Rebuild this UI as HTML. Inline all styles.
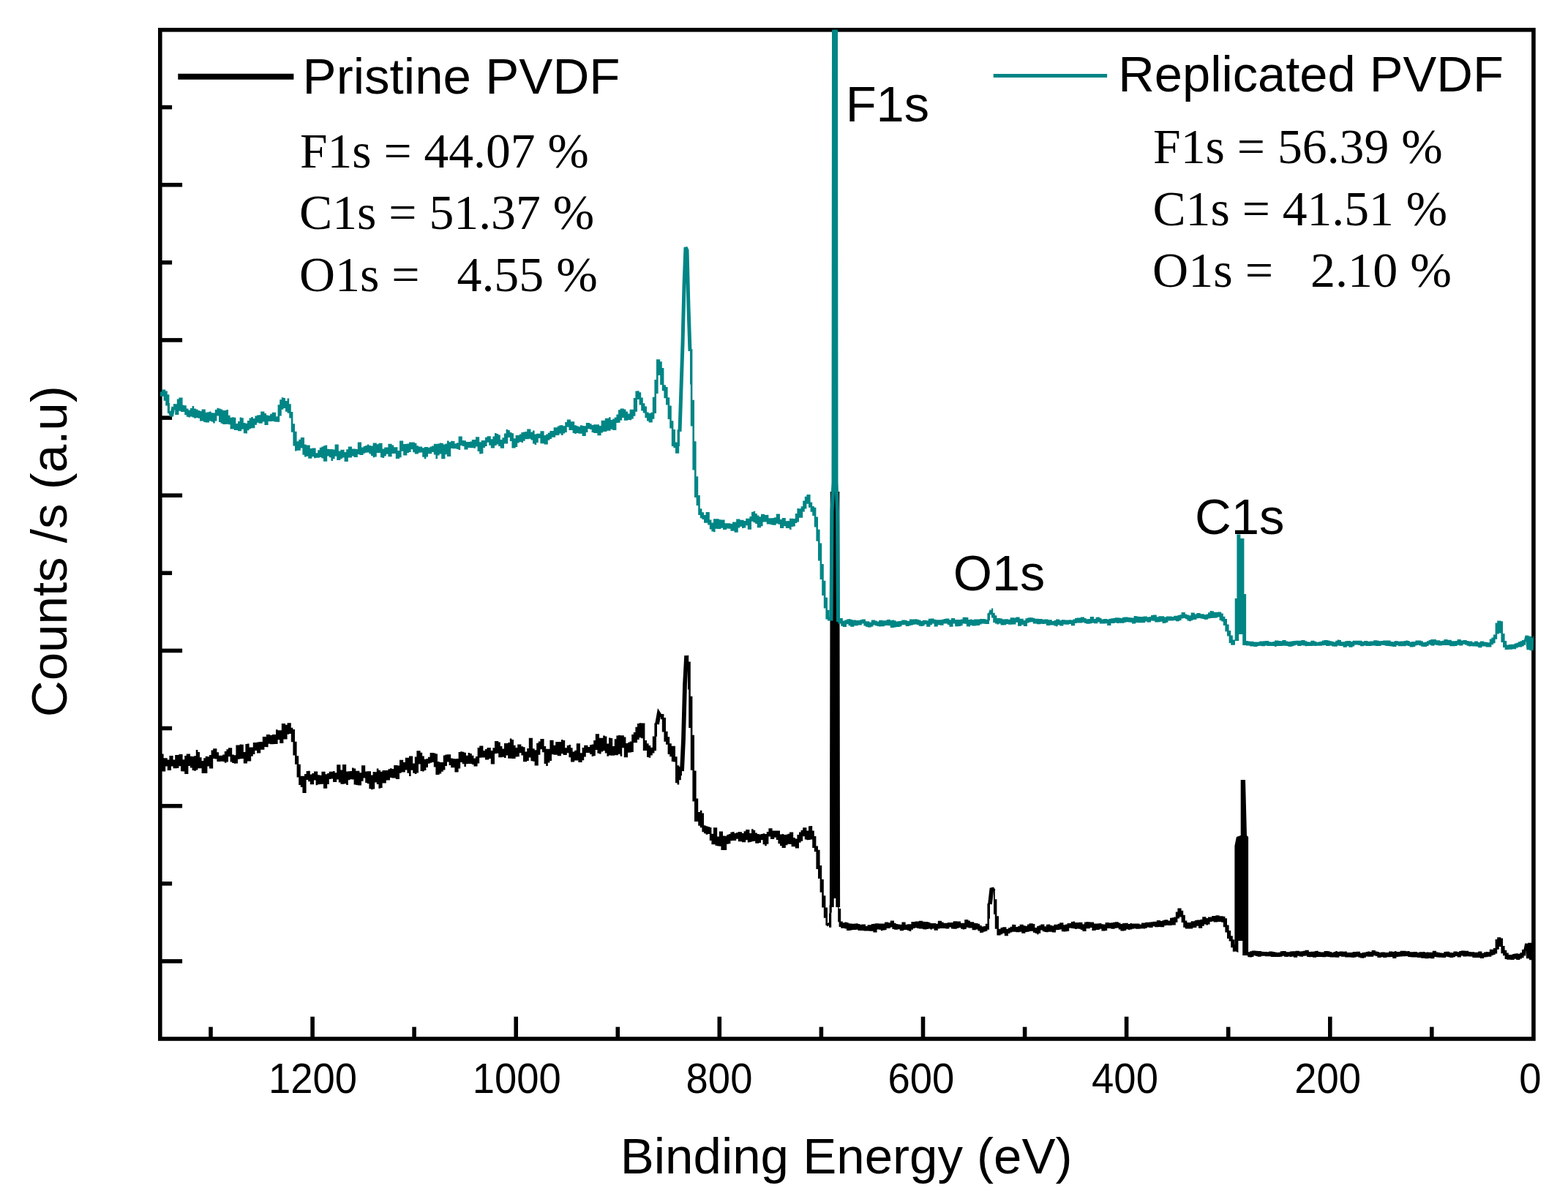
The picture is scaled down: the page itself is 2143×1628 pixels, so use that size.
<!DOCTYPE html>
<html><head><meta charset="utf-8"><title>XPS survey spectra of pristine and replicated PVDF</title>
<style>
html,body{margin:0;padding:0;background:#fff;}
body{width:2143px;height:1628px;overflow:hidden;}
svg{display:block;}
.sans{font-family:"Liberation Sans",Arial,sans-serif;fill:#000;}
.serif{font-family:"Liberation Serif","Times New Roman",serif;fill:#000;}
</style></head>
<body>
<svg width="2143" height="1628" viewBox="0 0 2143 1628">
<rect width="2143" height="1628" fill="#fff"/>
<g stroke="#000" stroke-width="5.6" fill="none">
<rect x="218.8" y="40.8" width="1877.1" height="1379.2"/>
<line x1="1956.8" y1="1420.0" x2="1956.8" y2="1403.7"/><line x1="1817.8" y1="1420.0" x2="1817.8" y2="1389.7"/><line x1="1678.7" y1="1420.0" x2="1678.7" y2="1403.7"/><line x1="1539.6" y1="1420.0" x2="1539.6" y2="1389.7"/><line x1="1400.6" y1="1420.0" x2="1400.6" y2="1403.7"/><line x1="1261.5" y1="1420.0" x2="1261.5" y2="1389.7"/><line x1="1122.4" y1="1420.0" x2="1122.4" y2="1403.7"/><line x1="983.3" y1="1420.0" x2="983.3" y2="1389.7"/><line x1="844.3" y1="1420.0" x2="844.3" y2="1403.7"/><line x1="705.2" y1="1420.0" x2="705.2" y2="1389.7"/><line x1="566.1" y1="1420.0" x2="566.1" y2="1403.7"/><line x1="427.1" y1="1420.0" x2="427.1" y2="1389.7"/><line x1="288.0" y1="1420.0" x2="288.0" y2="1403.7"/><line x1="218.8" y1="1313.9" x2="249.1" y2="1313.9"/><line x1="218.8" y1="1207.8" x2="235.1" y2="1207.8"/><line x1="218.8" y1="1101.7" x2="249.1" y2="1101.7"/><line x1="218.8" y1="995.5" x2="235.1" y2="995.5"/><line x1="218.8" y1="889.4" x2="249.1" y2="889.4"/><line x1="218.8" y1="783.3" x2="235.1" y2="783.3"/><line x1="218.8" y1="677.2" x2="249.1" y2="677.2"/><line x1="218.8" y1="571.1" x2="235.1" y2="571.1"/><line x1="218.8" y1="464.9" x2="249.1" y2="464.9"/><line x1="218.8" y1="358.8" x2="235.1" y2="358.8"/><line x1="218.8" y1="252.7" x2="249.1" y2="252.7"/><line x1="218.8" y1="146.6" x2="235.1" y2="146.6"/>
<line x1="243.3" y1="104.8" x2="401.4" y2="104.8" stroke-width="8"/>
<line x1="1357.7" y1="103.5" x2="1513.1" y2="103.5" stroke="#008585" stroke-width="5.1"/>
</g>
<defs><clipPath id="plotclip"><rect x="218.8" y="40.8" width="1877.1" height="1379.2"/></clipPath></defs>
<g fill="none" stroke-linejoin="miter" stroke-miterlimit="3" clip-path="url(#plotclip)">
<path d="M1138.5 672H1143.5V1228H1138.5Z M1687.4 1300V1156L1689.9 1144L1695.7 1142V1066H1702L1704 1142L1706.1 1144V1306H1698.2V1286H1692.4V1302Z" fill="#000" stroke="none"/>
<path d="M219.0 1044.0M898.0 990.0L900.5 976.0L903.0 980.0M932.0 1054.0L934.0 1011.0L936.0 936.0L938.0 899.0L940.0 899.0M1131.0 1262.0L1133.0 1265.0M1136.8 1240.0L1137.6 672.0M1144.4 672.0L1145.2 1240.0M1353.0 1236.0L1355.5 1214.0L1358.0 1218.0M1688.0 1298.0M1705.0 1304.0M2085.0 1300.0L2087.0 1290.0L2089.0 1310.0L2091.0 1289.0L2093.0 1312.0L2095.0 1292.0M2099.0 1296.0" stroke="#000" stroke-width="5.8"/>
<path d="M219.0 1030.4H221.0V1047.2H219.0ZM221.0 1030.4H223.6V1054.5H221.0ZM223.6 1036.3H226.2V1054.5H223.6ZM226.2 1036.3H228.8V1047.6H226.2ZM228.8 1038.5H231.4V1053.0H228.8ZM231.4 1033.0H234.0V1053.0H231.4ZM234.0 1033.0H236.6V1047.6H234.0ZM236.6 1038.5H239.2V1050.3H236.6ZM239.2 1032.1H241.8V1050.3H239.2ZM241.8 1032.0H244.4V1050.0H241.8ZM244.4 1031.0H247.0V1047.2H244.4ZM247.0 1031.0H249.6V1054.3H247.0ZM249.6 1038.2H252.2V1054.6H249.6ZM252.2 1033.1H254.8V1057.9H252.2ZM254.8 1030.4H257.4V1057.9H254.8ZM257.4 1030.4H260.0V1047.1H257.4ZM260.0 1033.8H262.6V1049.4H260.0ZM262.6 1033.9H265.2V1052.9H262.6ZM265.2 1033.3H267.8V1053.7H265.2ZM267.8 1024.9H270.4V1052.5H267.8ZM270.4 1028.1H273.0V1050.2H270.4ZM273.0 1035.2H275.6V1050.2H273.0ZM275.6 1040.0H278.2V1057.0H275.6ZM278.2 1036.2H280.8V1057.0H278.2ZM280.8 1033.8H283.4V1056.9H280.8ZM283.4 1034.2H286.0V1047.6H283.4ZM286.0 1031.9H288.6V1050.5H286.0ZM288.6 1025.4H291.2V1050.5H288.6ZM291.2 1023.3H293.8V1036.9H291.2ZM293.8 1023.3H296.4V1037.4H293.8ZM296.4 1028.2H299.0V1040.9H296.4ZM299.0 1032.8H301.6V1040.9H299.0ZM301.6 1032.7H304.2V1040.7H301.6ZM304.2 1031.6H306.8V1041.1H304.2ZM306.8 1027.0H309.4V1042.7H306.8ZM309.4 1024.2H312.0V1041.4H309.4ZM312.0 1022.2H314.6V1034.3H312.0ZM314.6 1022.2H317.2V1041.5H314.6ZM317.2 1031.4H319.8V1042.9H317.2ZM319.8 1032.3H322.4V1043.7H319.8ZM322.4 1018.4H325.0V1043.6H322.4ZM325.0 1018.4H327.6V1037.7H325.0ZM327.6 1017.4H330.2V1037.2H327.6ZM330.2 1017.8H332.8V1036.9H330.2ZM332.8 1028.1H335.4V1043.5H332.8ZM335.4 1017.1H338.0V1043.5H335.4ZM338.0 1016.6H340.6V1040.5H338.0ZM340.6 1021.4H343.2V1040.5H340.6ZM343.2 1021.4H345.8V1033.7H343.2ZM345.8 1015.1H348.4V1030.9H345.8ZM348.4 1015.1H351.0V1026.0H348.4ZM351.0 1014.4H353.6V1029.4H351.0ZM353.6 1014.1H356.2V1029.4H353.6ZM356.2 1014.1H358.8V1024.7H356.2ZM358.8 1007.1H361.4V1024.7H358.8ZM361.4 1007.0H364.0V1020.9H361.4ZM364.0 1003.9H366.6V1021.2H364.0ZM366.6 1003.9H369.2V1016.8H366.6ZM369.2 1005.0H371.8V1017.2H369.2ZM371.8 1004.0H374.4V1017.3H371.8ZM374.4 1004.0H377.0V1017.0H374.4ZM377.0 997.3H379.6V1017.0H377.0ZM379.6 998.2H382.2V1011.2H379.6ZM382.2 998.3H384.8V1015.9H382.2ZM384.8 988.9H387.4V1015.9H384.8ZM387.4 988.9H390.0V1010.4H387.4ZM390.0 990.8H392.6V1010.4H390.0ZM392.6 988.2H395.2V1003.8H392.6ZM395.2 988.2H397.8V1002.9H395.2ZM397.8 994.8H400.4V1014.3H397.8ZM400.4 997.0H403.0V1032.5H400.4ZM403.0 1013.7H405.6V1044.7H403.0ZM405.6 1033.3H408.2V1062.6H405.6ZM408.2 1044.8H410.8V1073.1H408.2ZM410.8 1060.8H413.4V1075.9H410.8ZM413.4 1060.8H416.0V1084.0H413.4ZM416.0 1057.9H418.6V1084.0H416.0ZM418.6 1054.0H421.2V1066.0H418.6ZM421.2 1053.8H423.8V1068.3H421.2ZM423.8 1058.5H426.4V1072.2H423.8ZM426.4 1057.0H429.0V1072.2H426.4ZM429.0 1054.4H431.6V1066.4H429.0ZM431.6 1054.4H434.2V1073.2H431.6ZM434.2 1059.2H436.8V1072.3H434.2ZM436.8 1059.7H439.4V1071.9H436.8ZM439.4 1054.8H442.0V1071.8H439.4ZM442.0 1054.8H444.6V1077.7H442.0ZM444.6 1058.2H447.2V1077.7H444.6ZM447.2 1057.0H449.8V1072.0H447.2ZM449.8 1054.7H452.4V1065.0H449.8ZM452.4 1054.7H455.0V1064.6H452.4ZM455.0 1054.1H457.6V1069.0H455.0ZM457.6 1056.3H460.2V1069.0H457.6ZM460.2 1045.3H462.8V1065.6H460.2ZM462.8 1045.3H465.4V1069.4H462.8ZM465.4 1052.6H468.0V1071.7H465.4ZM468.0 1044.9H470.6V1071.7H468.0ZM470.6 1044.9H473.2V1071.3H470.6ZM473.2 1054.4H475.8V1072.9H473.2ZM475.8 1054.3H478.4V1066.3H475.8ZM478.4 1054.0H481.0V1065.3H478.4ZM481.0 1049.5H483.6V1065.6H481.0ZM483.6 1050.4H486.2V1072.5H483.6ZM486.2 1053.8H488.8V1072.9H486.2ZM488.8 1053.8H491.4V1073.6H488.8ZM491.4 1056.2H494.0V1073.4H491.4ZM494.0 1046.3H496.6V1067.8H494.0ZM496.6 1046.3H499.2V1063.5H496.6ZM499.2 1054.5H501.8V1070.1H499.2ZM501.8 1054.3H504.4V1071.3H501.8ZM504.4 1054.3H507.0V1078.3H504.4ZM507.0 1059.5H509.6V1079.3H507.0ZM509.6 1055.1H512.2V1078.4H509.6ZM512.2 1055.2H514.8V1069.6H512.2ZM514.8 1050.6H517.4V1072.1H514.8ZM517.4 1052.7H520.0V1077.8H517.4ZM520.0 1054.8H522.6V1077.0H520.0ZM522.6 1053.0H525.2V1070.6H522.6ZM525.2 1053.0H527.8V1070.6H525.2ZM527.8 1052.9H530.4V1066.6H527.8ZM530.4 1051.3H533.0V1066.6H530.4ZM533.0 1050.2H535.6V1063.0H533.0ZM535.6 1051.0H538.2V1063.5H535.6ZM538.2 1045.9H540.8V1063.5H538.2ZM540.8 1045.9H543.4V1064.9H540.8ZM543.4 1046.5H546.0V1064.9H543.4ZM546.0 1038.7H548.6V1056.7H546.0ZM548.6 1038.7H551.2V1055.5H548.6ZM551.2 1042.0H553.8V1055.5H551.2ZM553.8 1035.7H556.4V1052.4H553.8ZM556.4 1035.7H559.0V1056.8H556.4ZM559.0 1033.6H561.6V1061.1H559.0ZM561.6 1033.6H564.2V1052.8H561.6ZM564.2 1043.4H566.8V1056.7H564.2ZM566.8 1034.4H569.4V1058.1H566.8ZM569.4 1026.2H572.0V1056.5H569.4ZM572.0 1026.3H574.6V1044.4H572.0ZM574.6 1028.8H577.2V1054.0H574.6ZM577.2 1033.6H579.8V1054.4H577.2ZM579.8 1037.8H582.4V1053.0H579.8ZM582.4 1036.9H585.0V1048.9H582.4ZM585.0 1034.8H587.6V1043.8H585.0ZM587.6 1029.1H590.2V1042.8H587.6ZM590.2 1029.1H592.8V1042.0H590.2ZM592.8 1029.4H595.4V1048.4H592.8ZM595.4 1030.6H598.0V1059.0H595.4ZM598.0 1041.1H600.6V1059.0H598.0ZM600.6 1041.9H603.2V1057.6H600.6ZM603.2 1042.0H605.8V1054.7H603.2ZM605.8 1032.6H608.4V1052.6H605.8ZM608.4 1031.4H611.0V1046.9H608.4ZM611.0 1031.3H613.6V1041.5H611.0ZM613.6 1031.3H616.2V1045.9H613.6ZM616.2 1036.6H618.8V1049.2H616.2ZM618.8 1037.0H621.4V1049.2H618.8ZM621.4 1037.2H624.0V1055.5H621.4ZM624.0 1036.9H626.6V1055.5H624.0ZM626.6 1028.0H629.2V1050.4H626.6ZM629.2 1027.2H631.8V1041.9H629.2ZM631.8 1027.8H634.4V1044.3H631.8ZM634.4 1028.7H637.0V1048.0H634.4ZM637.0 1032.8H639.6V1044.3H637.0ZM639.6 1029.0H642.2V1043.9H639.6ZM642.2 1030.1H644.8V1043.9H642.2ZM644.8 1032.7H647.4V1044.9H644.8ZM647.4 1036.4H650.0V1047.4H647.4ZM650.0 1034.0H652.6V1047.4H650.0ZM652.6 1022.1H655.2V1043.5H652.6ZM655.2 1019.4H657.8V1035.8H655.2ZM657.8 1019.4H660.4V1035.6H657.8ZM660.4 1026.1H663.0V1035.6H660.4ZM663.0 1024.1H665.6V1038.6H663.0ZM665.6 1021.9H668.2V1038.6H665.6ZM668.2 1021.9H670.8V1036.9H668.2ZM670.8 1026.1H673.4V1044.5H670.8ZM673.4 1022.2H676.0V1044.5H673.4ZM676.0 1013.1H678.6V1030.2H676.0ZM678.6 1013.1H681.2V1029.8H678.6ZM681.2 1014.4H683.8V1035.2H681.2ZM683.8 1020.0H686.4V1035.2H683.8ZM686.4 1023.4H689.0V1034.7H686.4ZM689.0 1016.1H691.6V1035.9H689.0ZM691.6 1016.1H694.2V1032.4H691.6ZM694.2 1015.0H696.8V1036.8H694.2ZM696.8 1009.4H699.4V1036.8H696.8ZM699.4 1011.1H702.0V1037.1H699.4ZM702.0 1018.7H704.6V1037.1H702.0ZM704.6 1021.9H707.2V1034.4H704.6ZM707.2 1017.4H709.8V1034.3H707.2ZM709.8 1017.4H712.4V1029.2H709.8ZM712.4 1020.3H715.0V1032.6H712.4ZM715.0 1021.3H717.6V1041.3H715.0ZM717.6 1027.5H720.2V1041.3H717.6ZM720.2 1022.9H722.8V1040.0H720.2ZM722.8 1008.7H725.4V1035.6H722.8ZM725.4 1008.7H728.0V1040.2H725.4ZM728.0 1023.3H730.6V1040.8H728.0ZM730.6 1025.3H733.2V1046.6H730.6ZM733.2 1015.7H735.8V1046.6H733.2ZM735.8 1013.5H738.4V1031.7H735.8ZM738.4 1010.0H741.0V1024.2H738.4ZM741.0 1010.0H743.6V1028.3H741.0ZM743.6 1020.1H746.2V1044.0H743.6ZM746.2 1023.8H748.8V1047.0H746.2ZM748.8 1023.8H751.4V1042.4H748.8ZM751.4 1011.7H754.0V1039.9H751.4ZM754.0 1011.7H756.6V1031.2H754.0ZM756.6 1018.8H759.2V1031.7H756.6ZM759.2 1014.0H761.8V1031.7H759.2ZM761.8 1014.0H764.4V1033.2H761.8ZM764.4 1014.1H767.0V1033.2H764.4ZM767.0 1011.1H769.6V1030.2H767.0ZM769.6 1011.9H772.2V1032.0H769.6ZM772.2 1022.3H774.8V1032.0H772.2ZM774.8 1019.0H777.4V1029.3H774.8ZM777.4 1018.0H780.0V1035.2H777.4ZM780.0 1022.2H782.6V1041.6H780.0ZM782.6 1027.5H785.2V1041.6H782.6ZM785.2 1025.8H787.8V1039.5H785.2ZM787.8 1016.2H790.4V1039.5H787.8ZM790.4 1016.2H793.0V1041.9H790.4ZM793.0 1029.2H795.6V1042.0H793.0ZM795.6 1022.0H798.2V1039.3H795.6ZM798.2 1018.8H800.8V1034.5H798.2ZM800.8 1018.8H803.4V1029.1H800.8ZM803.4 1021.1H806.0V1029.0H803.4ZM806.0 1018.2H808.6V1030.9H806.0ZM808.6 1017.4H811.2V1034.0H808.6ZM811.2 1011.9H813.8V1033.3H811.2ZM813.8 1003.3H816.4V1025.1H813.8ZM816.4 1003.3H819.0V1029.8H816.4ZM819.0 1008.7H821.6V1030.4H819.0ZM821.6 1008.7H824.2V1027.4H821.6ZM824.2 1005.4H826.8V1026.2H824.2ZM826.8 1006.5H829.4V1029.4H826.8ZM829.4 1016.5H832.0V1033.7H829.4ZM832.0 1008.5H834.6V1032.5H832.0ZM834.6 1009.1H837.2V1032.8H834.6ZM837.2 1020.1H839.8V1032.8H837.2ZM839.8 1010.2H842.4V1032.3H839.8ZM842.4 1005.4H845.0V1032.3H842.4ZM845.0 1005.1H847.6V1030.8H845.0ZM847.6 1005.3H850.2V1033.8H847.6ZM850.2 1005.3H852.8V1022.2H850.2ZM852.8 1007.4H855.4V1035.3H852.8ZM855.4 1016.0H858.0V1035.3H855.4ZM858.0 1014.8H860.6V1028.8H858.0ZM860.6 1013.4H863.2V1028.4H860.6ZM863.2 1004.0H865.8V1028.1H863.2ZM865.8 1001.1H868.4V1015.2H865.8ZM868.4 993.7H871.0V1015.2H868.4ZM871.0 989.1H873.6V1010.9H871.0ZM873.6 988.3H876.2V1008.3H873.6ZM876.2 988.6H878.8V1009.3H876.2ZM878.8 988.6H881.4V1026.0H878.8ZM881.4 1011.9H884.0V1026.0H881.4ZM884.0 1016.3H886.6V1035.1H884.0ZM886.6 1019.0H889.2V1035.8H886.6ZM889.2 1021.7H891.8V1032.5H889.2ZM891.8 1006.6H894.4V1029.5H891.8ZM894.4 988.4H897.0V1026.2H894.4ZM897.0 986.8H898.0V1006.8H897.0ZM903.0 976.1H904.8V983.2H903.0ZM904.8 976.1H907.4V1000.4H904.8ZM907.4 981.0H910.0V1013.7H907.4ZM910.0 999.8H912.6V1017.7H910.0ZM912.6 1007.2H915.2V1030.9H912.6ZM915.2 1016.3H917.8V1034.2H915.2ZM917.8 1019.7H920.4V1040.9H917.8ZM920.4 1019.7H923.0V1041.5H920.4ZM923.0 1034.3H925.6V1070.2H923.0ZM925.6 1046.2H928.2V1072.5H925.6ZM928.2 1047.9H930.8V1066.2H928.2ZM930.8 1047.9H932.0V1060.2H930.8ZM940.0 895.8H941.2V942.6H940.0ZM941.2 904.5H943.8V994.9H941.2ZM943.8 951.8H946.4V1052.7H943.8ZM946.4 1004.7H949.0V1095.5H946.4ZM949.0 1053.5H951.6V1123.0H949.0ZM951.6 1091.4H954.2V1123.0H951.6ZM954.2 1109.9H956.8V1128.8H954.2ZM956.8 1107.8H959.4V1131.3H956.8ZM959.4 1111.5H962.0V1137.2H959.4ZM962.0 1128.2H964.6V1139.3H962.0ZM964.6 1129.2H967.2V1140.8H964.6ZM967.2 1129.9H969.8V1140.0H967.2ZM969.8 1131.0H972.4V1149.1H969.8ZM972.4 1139.8H975.0V1154.2H972.4ZM975.0 1131.2H977.6V1154.2H975.0ZM977.6 1131.2H980.2V1156.0H977.6ZM980.2 1143.4H982.8V1156.6H980.2ZM982.8 1136.4H985.4V1156.8H982.8ZM985.4 1136.4H988.0V1162.1H985.4ZM988.0 1142.5H990.6V1161.9H988.0ZM990.6 1142.8H993.2V1161.9H990.6ZM993.2 1140.9H995.8V1153.7H993.2ZM995.8 1140.1H998.4V1153.2H995.8ZM998.4 1137.5H1001.0V1149.3H998.4ZM1001.0 1136.9H1003.6V1149.1H1001.0ZM1003.6 1139.1H1006.2V1149.1H1003.6ZM1006.2 1138.0H1008.8V1146.8H1006.2ZM1008.8 1137.0H1011.4V1150.3H1008.8ZM1011.4 1137.3H1014.0V1150.3H1011.4ZM1014.0 1139.0H1016.6V1151.3H1014.0ZM1016.6 1136.3H1019.2V1151.3H1016.6ZM1019.2 1134.1H1021.8V1148.2H1019.2ZM1021.8 1134.1H1024.4V1151.4H1021.8ZM1024.4 1138.9H1027.0V1150.9H1024.4ZM1027.0 1133.3H1029.6V1150.2H1027.0ZM1029.6 1134.7H1032.2V1149.8H1029.6ZM1032.2 1138.4H1034.8V1152.8H1032.2ZM1034.8 1140.0H1037.4V1152.8H1034.8ZM1037.4 1140.4H1040.0V1152.1H1037.4ZM1040.0 1140.0H1042.6V1148.3H1040.0ZM1042.6 1139.3H1045.2V1154.3H1042.6ZM1045.2 1139.9H1047.8V1156.3H1045.2ZM1047.8 1136.9H1050.4V1153.8H1047.8ZM1050.4 1132.3H1053.0V1143.6H1050.4ZM1053.0 1132.3H1055.6V1147.0H1053.0ZM1055.6 1135.6H1058.2V1147.0H1055.6ZM1058.2 1135.5H1060.8V1144.7H1058.2ZM1060.8 1135.6H1063.4V1148.0H1060.8ZM1063.4 1135.6H1066.0V1153.3H1063.4ZM1066.0 1140.5H1068.6V1156.3H1066.0ZM1068.6 1140.1H1071.2V1158.9H1068.6ZM1071.2 1141.0H1073.8V1158.9H1071.2ZM1073.8 1140.7H1076.4V1155.3H1073.8ZM1076.4 1139.7H1079.0V1153.8H1076.4ZM1079.0 1137.4H1081.6V1154.0H1079.0ZM1081.6 1137.4H1084.2V1157.2H1081.6ZM1084.2 1145.0H1086.8V1157.2H1084.2ZM1086.8 1146.4H1089.4V1159.5H1086.8ZM1089.4 1140.9H1092.0V1159.5H1089.4ZM1092.0 1137.4H1094.6V1151.7H1092.0ZM1094.6 1134.8H1097.2V1149.7H1094.6ZM1097.2 1131.2H1099.8V1143.3H1097.2ZM1099.8 1131.2H1102.4V1147.6H1099.8ZM1102.4 1135.5H1105.0V1148.2H1102.4ZM1105.0 1129.3H1107.6V1148.0H1105.0ZM1107.6 1129.0H1110.2V1147.5H1107.6ZM1110.2 1135.5H1112.8V1158.9H1110.2ZM1112.8 1143.1H1115.4V1164.2H1112.8ZM1115.4 1156.4H1118.0V1187.9H1115.4ZM1118.0 1161.7H1120.6V1200.9H1118.0ZM1120.6 1183.0H1123.2V1219.7H1120.6ZM1123.2 1202.1H1125.8V1240.6H1123.2ZM1125.8 1224.2H1128.4V1254.7H1125.8ZM1128.4 1240.6H1131.0V1264.8H1128.4ZM1133.0 1248.6H1133.6V1267.8H1133.0ZM1133.6 1237.2H1136.2V1267.8H1133.6ZM1136.2 1237.2H1136.8V1247.5H1136.2ZM1137.6 669.0H1138.8V674.9H1137.6ZM1138.8 668.0H1141.4V674.9H1138.8ZM1141.4 666.5H1144.0V674.8H1141.4ZM1144.0 666.8H1144.4V674.8H1144.0ZM1145.2 1237.2H1146.6V1260.2H1145.2ZM1146.6 1242.1H1149.2V1267.1H1146.6ZM1149.2 1259.5H1151.8V1268.8H1149.2ZM1151.8 1261.2H1154.4V1268.8H1151.8ZM1154.4 1260.6H1157.0V1269.5H1154.4ZM1157.0 1261.0H1159.6V1271.9H1157.0ZM1159.6 1262.3H1162.2V1271.9H1159.6ZM1162.2 1262.5H1164.8V1271.5H1162.2ZM1164.8 1262.7H1167.4V1271.0H1164.8ZM1167.4 1262.5H1170.0V1271.0H1167.4ZM1170.0 1262.3H1172.6V1270.7H1170.0ZM1172.6 1263.1H1175.2V1272.0H1172.6ZM1175.2 1263.8H1177.8V1272.1H1175.2ZM1177.8 1263.4H1180.4V1271.9H1177.8ZM1180.4 1263.4H1183.0V1272.6H1180.4ZM1183.0 1265.9H1185.6V1272.6H1183.0ZM1185.6 1264.2H1188.2V1272.5H1185.6ZM1188.2 1264.2H1190.8V1272.8H1188.2ZM1190.8 1263.1H1193.4V1272.8H1190.8ZM1193.4 1262.7H1196.0V1274.5H1193.4ZM1196.0 1262.3H1198.6V1274.5H1196.0ZM1198.6 1262.3H1201.2V1270.4H1198.6ZM1201.2 1262.4H1203.8V1270.7H1201.2ZM1203.8 1262.4H1206.4V1272.2H1203.8ZM1206.4 1262.6H1209.0V1271.4H1206.4ZM1209.0 1260.4H1211.6V1271.3H1209.0ZM1211.6 1260.4H1214.2V1268.9H1211.6ZM1214.2 1261.2H1216.8V1268.9H1214.2ZM1216.8 1258.6H1219.4V1267.4H1216.8ZM1219.4 1258.6H1222.0V1270.1H1219.4ZM1222.0 1261.7H1224.6V1270.7H1222.0ZM1224.6 1263.1H1227.2V1270.7H1224.6ZM1227.2 1263.4H1229.8V1270.3H1227.2ZM1229.8 1263.8H1232.4V1272.3H1229.8ZM1232.4 1260.4H1235.0V1272.2H1232.4ZM1235.0 1260.4H1237.6V1270.9H1235.0ZM1237.6 1263.8H1240.2V1270.9H1237.6ZM1240.2 1263.3H1242.8V1272.1H1240.2ZM1242.8 1263.3H1245.4V1272.9H1242.8ZM1245.4 1260.1H1248.0V1270.8H1245.4ZM1248.0 1259.9H1250.6V1268.9H1248.0ZM1250.6 1259.5H1253.2V1268.3H1250.6ZM1253.2 1259.6H1255.8V1269.0H1253.2ZM1255.8 1258.8H1258.4V1269.6H1255.8ZM1258.4 1258.8H1261.0V1269.6H1258.4ZM1261.0 1259.8H1263.6V1270.3H1261.0ZM1263.6 1260.1H1266.2V1270.4H1263.6ZM1266.2 1260.1H1268.8V1270.0H1266.2ZM1268.8 1260.8H1271.4V1269.5H1268.8ZM1271.4 1262.1H1274.0V1270.5H1271.4ZM1274.0 1262.0H1276.6V1269.5H1274.0ZM1276.6 1262.0H1279.2V1271.8H1276.6ZM1279.2 1262.8H1281.8V1271.7H1279.2ZM1281.8 1258.8H1284.4V1269.6H1281.8ZM1284.4 1258.8H1287.0V1268.9H1284.4ZM1287.0 1260.5H1289.6V1268.9H1287.0ZM1289.6 1261.8H1292.2V1269.0H1289.6ZM1292.2 1261.8H1294.8V1269.6H1292.2ZM1294.8 1260.9H1297.4V1269.6H1294.8ZM1297.4 1260.9H1300.0V1267.6H1297.4ZM1300.0 1261.0H1302.6V1269.6H1300.0ZM1302.6 1259.3H1305.2V1269.7H1302.6ZM1305.2 1259.3H1307.8V1269.7H1305.2ZM1307.8 1259.5H1310.4V1268.8H1307.8ZM1310.4 1259.5H1313.0V1268.0H1310.4ZM1313.0 1261.8H1315.6V1269.8H1313.0ZM1315.6 1261.7H1318.2V1270.5H1315.6ZM1318.2 1257.1H1320.8V1270.0H1318.2ZM1320.8 1257.1H1323.4V1267.8H1320.8ZM1323.4 1258.5H1326.0V1268.4H1323.4ZM1326.0 1260.2H1328.6V1268.4H1326.0ZM1328.6 1260.2H1331.2V1271.2H1328.6ZM1331.2 1261.7H1333.8V1271.2H1331.2ZM1333.8 1262.1H1336.4V1270.6H1333.8ZM1336.4 1262.7H1339.0V1272.4H1336.4ZM1339.0 1264.9H1341.6V1275.0H1339.0ZM1341.6 1266.6H1344.2V1274.7H1341.6ZM1344.2 1265.9H1346.8V1273.6H1344.2ZM1346.8 1262.7H1349.4V1272.8H1346.8ZM1349.4 1235.0H1352.0V1270.8H1349.4ZM1352.0 1233.2H1353.0V1255.7H1352.0ZM1358.0 1215.2H1359.8V1249.8H1358.0ZM1359.8 1229.3H1362.4V1269.8H1359.8ZM1362.4 1252.3H1365.0V1278.5H1362.4ZM1365.0 1269.8H1367.6V1278.5H1365.0ZM1367.6 1268.1H1370.2V1277.3H1367.6ZM1370.2 1267.3H1372.8V1275.7H1370.2ZM1372.8 1267.3H1375.4V1279.3H1372.8ZM1375.4 1269.7H1378.0V1279.3H1375.4ZM1378.0 1268.2H1380.6V1276.0H1378.0ZM1380.6 1266.7H1383.2V1274.6H1380.6ZM1383.2 1263.7H1385.8V1273.8H1383.2ZM1385.8 1264.0H1388.4V1273.7H1385.8ZM1388.4 1267.1H1391.0V1274.2H1388.4ZM1391.0 1266.1H1393.6V1274.3H1391.0ZM1393.6 1263.8H1396.2V1273.8H1393.6ZM1396.2 1263.8H1398.8V1275.7H1396.2ZM1398.8 1265.2H1401.4V1275.7H1398.8ZM1401.4 1265.7H1404.0V1274.0H1401.4ZM1404.0 1263.4H1406.6V1273.7H1404.0ZM1406.6 1262.3H1409.2V1273.0H1406.6ZM1409.2 1262.3H1411.8V1272.8H1409.2ZM1411.8 1262.9H1414.4V1274.7H1411.8ZM1414.4 1267.9H1417.0V1275.8H1414.4ZM1417.0 1266.0H1419.6V1277.3H1417.0ZM1419.6 1265.1H1422.2V1275.8H1419.6ZM1422.2 1263.5H1424.8V1271.4H1422.2ZM1424.8 1263.5H1427.4V1273.2H1424.8ZM1427.4 1266.2H1430.0V1273.9H1427.4ZM1430.0 1263.8H1432.6V1274.3H1430.0ZM1432.6 1263.5H1435.2V1273.8H1432.6ZM1435.2 1264.7H1437.8V1273.8H1435.2ZM1437.8 1265.4H1440.4V1274.6H1437.8ZM1440.4 1263.7H1443.0V1274.6H1440.4ZM1443.0 1263.7H1445.6V1271.2H1443.0ZM1445.6 1262.7H1448.2V1271.1H1445.6ZM1448.2 1261.2H1450.8V1270.6H1448.2ZM1450.8 1261.2H1453.4V1273.2H1450.8ZM1453.4 1264.3H1456.0V1273.5H1453.4ZM1456.0 1263.4H1458.6V1273.2H1456.0ZM1458.6 1261.9H1461.2V1272.7H1458.6ZM1461.2 1261.9H1463.8V1268.5H1461.2ZM1463.8 1260.1H1466.4V1269.0H1463.8ZM1466.4 1259.5H1469.0V1269.2H1466.4ZM1469.0 1260.9H1471.6V1270.0H1469.0ZM1471.6 1261.1H1474.2V1269.5H1471.6ZM1474.2 1260.8H1476.8V1269.7H1474.2ZM1476.8 1260.8H1479.4V1271.0H1476.8ZM1479.4 1263.2H1482.0V1273.0H1479.4ZM1482.0 1260.4H1484.6V1273.0H1482.0ZM1484.6 1259.9H1487.2V1269.2H1484.6ZM1487.2 1260.2H1489.8V1269.3H1487.2ZM1489.8 1260.4H1492.4V1268.0H1489.8ZM1492.4 1260.4H1495.0V1272.0H1492.4ZM1495.0 1262.6H1497.6V1272.0H1495.0ZM1497.6 1262.6H1500.2V1271.1H1497.6ZM1500.2 1262.2H1502.8V1271.1H1500.2ZM1502.8 1261.9H1505.4V1269.8H1502.8ZM1505.4 1263.2H1508.0V1272.5H1505.4ZM1508.0 1263.6H1510.6V1272.5H1508.0ZM1510.6 1260.9H1513.2V1272.0H1510.6ZM1513.2 1261.0H1515.8V1269.0H1513.2ZM1515.8 1261.6H1518.4V1269.0H1515.8ZM1518.4 1261.2H1521.0V1269.8H1518.4ZM1521.0 1260.7H1523.6V1269.8H1521.0ZM1523.6 1260.2H1526.2V1268.7H1523.6ZM1526.2 1260.2H1528.8V1268.5H1526.2ZM1528.8 1261.6H1531.4V1270.4H1528.8ZM1531.4 1263.1H1534.0V1272.6H1531.4ZM1534.0 1262.0H1536.6V1272.6H1534.0ZM1536.6 1261.7H1539.2V1271.9H1536.6ZM1539.2 1261.7H1541.8V1270.3H1539.2ZM1541.8 1262.9H1544.4V1270.9H1541.8ZM1544.4 1261.9H1547.0V1270.4H1544.4ZM1547.0 1262.4H1549.6V1269.7H1547.0ZM1549.6 1262.5H1552.2V1269.3H1549.6ZM1552.2 1262.6H1554.8V1269.7H1552.2ZM1554.8 1262.6H1557.4V1269.7H1554.8ZM1557.4 1263.4H1560.0V1269.6H1557.4ZM1560.0 1261.5H1562.6V1269.3H1560.0ZM1562.6 1261.5H1565.2V1269.6H1562.6ZM1565.2 1260.8H1567.8V1268.7H1565.2ZM1567.8 1260.8H1570.4V1267.5H1567.8ZM1570.4 1260.6H1573.0V1267.9H1570.4ZM1573.0 1260.3H1575.6V1267.9H1573.0ZM1575.6 1259.7H1578.2V1266.3H1575.6ZM1578.2 1259.7H1580.8V1267.2H1578.2ZM1580.8 1258.0H1583.4V1267.2H1580.8ZM1583.4 1258.0H1586.0V1267.1H1583.4ZM1586.0 1259.1H1588.6V1267.3H1586.0ZM1588.6 1257.9H1591.2V1267.3H1588.6ZM1591.2 1257.3H1593.8V1265.3H1591.2ZM1593.8 1257.3H1596.4V1264.8H1593.8ZM1596.4 1258.6H1599.0V1264.9H1596.4ZM1599.0 1254.7H1601.6V1264.9H1599.0ZM1601.6 1254.2H1604.2V1264.4H1601.6ZM1604.2 1253.5H1606.8V1264.4H1604.2ZM1606.8 1246.5H1609.4V1260.8H1606.8ZM1609.4 1241.5H1612.0V1255.5H1609.4ZM1612.0 1241.5H1614.6V1253.4H1612.0ZM1614.6 1244.7H1617.2V1261.1H1614.6ZM1617.2 1250.7H1619.8V1267.8H1617.2ZM1619.8 1258.4H1622.4V1269.5H1619.8ZM1622.4 1261.1H1625.0V1269.5H1622.4ZM1625.0 1260.9H1627.6V1269.6H1625.0ZM1627.6 1259.3H1630.2V1269.6H1627.6ZM1630.2 1259.3H1632.8V1268.1H1630.2ZM1632.8 1257.9H1635.4V1268.1H1632.8ZM1635.4 1257.6H1638.0V1265.8H1635.4ZM1638.0 1257.6H1640.6V1268.8H1638.0ZM1640.6 1256.8H1643.2V1268.8H1640.6ZM1643.2 1253.2H1645.8V1265.7H1643.2ZM1645.8 1253.2H1648.4V1263.5H1645.8ZM1648.4 1255.0H1651.0V1264.5H1648.4ZM1651.0 1253.6H1653.6V1263.6H1651.0ZM1653.6 1253.6H1656.2V1260.1H1653.6ZM1656.2 1252.1H1658.8V1259.5H1656.2ZM1658.8 1252.1H1661.4V1260.5H1658.8ZM1661.4 1251.2H1664.0V1260.5H1661.4ZM1664.0 1251.2H1666.6V1260.1H1664.0ZM1666.6 1252.3H1669.2V1260.1H1666.6ZM1669.2 1252.3H1671.8V1260.7H1669.2ZM1671.8 1252.8H1674.4V1267.3H1671.8ZM1674.4 1255.2H1677.0V1274.5H1674.4ZM1677.0 1264.5H1679.6V1283.1H1677.0ZM1679.6 1271.9H1682.2V1286.5H1679.6ZM1682.2 1279.2H1684.8V1295.2H1682.2ZM1684.8 1284.3H1687.4V1300.8H1684.8ZM1687.4 1291.2H1688.0V1300.8H1687.4ZM1705.0 1301.2H1705.6V1307.6H1705.0ZM1705.6 1301.2H1708.2V1308.3H1705.6ZM1708.2 1300.3H1710.8V1308.5H1708.2ZM1710.8 1299.6H1713.4V1307.9H1710.8ZM1713.4 1299.5H1716.0V1306.3H1713.4ZM1716.0 1299.7H1718.6V1307.1H1716.0ZM1718.6 1299.9H1721.2V1307.7H1718.6ZM1721.2 1299.9H1723.8V1307.7H1721.2ZM1723.8 1300.7H1726.4V1306.8H1723.8ZM1726.4 1300.9H1729.0V1306.8H1726.4ZM1729.0 1300.9H1731.6V1307.3H1729.0ZM1731.6 1301.3H1734.2V1307.3H1731.6ZM1734.2 1300.5H1736.8V1307.2H1734.2ZM1736.8 1300.6H1739.4V1307.9H1736.8ZM1739.4 1300.9H1742.0V1307.9H1739.4ZM1742.0 1301.4H1744.6V1307.9H1742.0ZM1744.6 1301.9H1747.2V1308.1H1744.6ZM1747.2 1301.7H1749.8V1307.9H1747.2ZM1749.8 1300.3H1752.4V1307.8H1749.8ZM1752.4 1300.0H1755.0V1306.7H1752.4ZM1755.0 1300.0H1757.6V1307.8H1755.0ZM1757.6 1301.2H1760.2V1307.9H1757.6ZM1760.2 1301.2H1762.8V1307.6H1760.2ZM1762.8 1300.5H1765.4V1308.0H1762.8ZM1765.4 1300.3H1768.0V1307.4H1765.4ZM1768.0 1300.3H1770.6V1308.7H1768.0ZM1770.6 1299.7H1773.2V1308.7H1770.6ZM1773.2 1299.7H1775.8V1306.8H1773.2ZM1775.8 1300.6H1778.4V1307.5H1775.8ZM1778.4 1300.3H1781.0V1307.8H1778.4ZM1781.0 1299.8H1783.6V1306.7H1781.0ZM1783.6 1298.7H1786.2V1306.5H1783.6ZM1786.2 1298.7H1788.8V1307.9H1786.2ZM1788.8 1301.1H1791.4V1308.2H1788.8ZM1791.4 1300.8H1794.0V1308.1H1791.4ZM1794.0 1300.8H1796.6V1308.7H1794.0ZM1796.6 1300.1H1799.2V1308.7H1796.6ZM1799.2 1299.8H1801.8V1307.9H1799.2ZM1801.8 1301.0H1804.4V1308.0H1801.8ZM1804.4 1301.6H1807.0V1307.9H1804.4ZM1807.0 1301.4H1809.6V1308.3H1807.0ZM1809.6 1300.1H1812.2V1308.3H1809.6ZM1812.2 1300.1H1814.8V1307.7H1812.2ZM1814.8 1300.2H1817.4V1308.0H1814.8ZM1817.4 1300.9H1820.0V1308.4H1817.4ZM1820.0 1301.9H1822.6V1308.6H1820.0ZM1822.6 1300.9H1825.2V1308.6H1822.6ZM1825.2 1299.9H1827.8V1308.8H1825.2ZM1827.8 1301.0H1830.4V1308.8H1827.8ZM1830.4 1300.5H1833.0V1307.0H1830.4ZM1833.0 1300.5H1835.6V1307.7H1833.0ZM1835.6 1300.7H1838.2V1307.7H1835.6ZM1838.2 1300.6H1840.8V1308.6H1838.2ZM1840.8 1302.1H1843.4V1308.6H1840.8ZM1843.4 1302.1H1846.0V1308.6H1843.4ZM1846.0 1302.0H1848.6V1308.7H1846.0ZM1848.6 1301.1H1851.2V1308.9H1848.6ZM1851.2 1301.1H1853.8V1308.5H1851.2ZM1853.8 1300.7H1856.4V1307.7H1853.8ZM1856.4 1300.7H1859.0V1308.8H1856.4ZM1859.0 1302.8H1861.6V1309.5H1859.0ZM1861.6 1302.1H1864.2V1309.7H1861.6ZM1864.2 1301.7H1866.8V1309.0H1864.2ZM1866.8 1301.1H1869.4V1307.5H1866.8ZM1869.4 1300.6H1872.0V1307.8H1869.4ZM1872.0 1300.9H1874.6V1307.8H1872.0ZM1874.6 1299.1H1877.2V1307.8H1874.6ZM1877.2 1299.1H1879.8V1306.2H1877.2ZM1879.8 1300.4H1882.4V1307.0H1879.8ZM1882.4 1301.0H1885.0V1308.9H1882.4ZM1885.0 1302.0H1887.6V1308.9H1885.0ZM1887.6 1301.4H1890.2V1308.3H1887.6ZM1890.2 1301.4H1892.8V1308.9H1890.2ZM1892.8 1302.1H1895.4V1308.9H1892.8ZM1895.4 1302.0H1898.0V1308.2H1895.4ZM1898.0 1300.6H1900.6V1308.2H1898.0ZM1900.6 1300.6H1903.2V1307.9H1900.6ZM1903.2 1301.1H1905.8V1310.0H1903.2ZM1905.8 1300.1H1908.4V1310.0H1905.8ZM1908.4 1301.1H1911.0V1308.1H1908.4ZM1911.0 1301.0H1913.6V1307.7H1911.0ZM1913.6 1299.8H1916.2V1307.5H1913.6ZM1916.2 1299.7H1918.8V1307.2H1916.2ZM1918.8 1299.7H1921.4V1307.2H1918.8ZM1921.4 1300.3H1924.0V1307.1H1921.4ZM1924.0 1300.1H1926.6V1308.0H1924.0ZM1926.6 1301.2H1929.2V1308.2H1926.6ZM1929.2 1301.3H1931.8V1308.5H1929.2ZM1931.8 1301.1H1934.4V1308.5H1931.8ZM1934.4 1301.1H1937.0V1308.4H1934.4ZM1937.0 1301.9H1939.6V1309.1H1937.0ZM1939.6 1301.2H1942.2V1309.1H1939.6ZM1942.2 1301.2H1944.8V1309.7H1942.2ZM1944.8 1301.1H1947.4V1309.7H1944.8ZM1947.4 1301.7H1950.0V1310.2H1947.4ZM1950.0 1301.6H1952.6V1310.2H1950.0ZM1952.6 1301.7H1955.2V1309.7H1952.6ZM1955.2 1301.8H1957.8V1310.2H1955.2ZM1957.8 1299.7H1960.4V1310.2H1957.8ZM1960.4 1299.7H1963.0V1308.1H1960.4ZM1963.0 1301.4H1965.6V1308.6H1963.0ZM1965.6 1302.0H1968.2V1308.7H1965.6ZM1968.2 1302.6H1970.8V1308.8H1968.2ZM1970.8 1302.7H1973.4V1309.0H1970.8ZM1973.4 1300.9H1976.0V1309.0H1973.4ZM1976.0 1300.7H1978.6V1307.7H1976.0ZM1978.6 1300.7H1981.2V1308.2H1978.6ZM1981.2 1302.1H1983.8V1308.9H1981.2ZM1983.8 1302.3H1986.4V1309.0H1983.8ZM1986.4 1300.5H1989.0V1308.2H1986.4ZM1989.0 1300.5H1991.6V1307.0H1989.0ZM1991.6 1301.2H1994.2V1308.5H1991.6ZM1994.2 1300.1H1996.8V1308.5H1994.2ZM1996.8 1299.4H1999.4V1306.5H1996.8ZM1999.4 1299.4H2002.0V1307.6H1999.4ZM2002.0 1299.8H2004.6V1307.6H2002.0ZM2004.6 1299.8H2007.2V1307.2H2004.6ZM2007.2 1301.1H2009.8V1307.4H2007.2ZM2009.8 1301.2H2012.4V1307.4H2009.8ZM2012.4 1301.2H2015.0V1309.1H2012.4ZM2015.0 1301.7H2017.6V1309.1H2015.0ZM2017.6 1301.7H2020.2V1309.1H2017.6ZM2020.2 1300.5H2022.8V1309.1H2020.2ZM2022.8 1300.5H2025.4V1310.0H2022.8ZM2025.4 1302.7H2028.0V1310.0H2025.4ZM2028.0 1301.6H2030.6V1308.4H2028.0ZM2030.6 1301.1H2033.2V1308.3H2030.6ZM2033.2 1301.2H2035.8V1307.8H2033.2ZM2035.8 1297.8H2038.4V1307.8H2035.8ZM2038.4 1297.8H2041.0V1306.1H2038.4ZM2041.0 1296.1H2043.6V1305.0H2041.0ZM2043.6 1284.1H2046.2V1303.6H2043.6ZM2046.2 1281.2H2048.8V1297.8H2046.2ZM2048.8 1281.2H2051.4V1294.0H2048.8ZM2051.4 1282.6H2054.0V1303.3H2051.4ZM2054.0 1293.1H2056.6V1306.3H2054.0ZM2056.6 1298.7H2059.2V1311.1H2056.6ZM2059.2 1302.4H2061.8V1311.8H2059.2ZM2061.8 1305.1H2064.4V1311.8H2061.8ZM2064.4 1305.0H2067.0V1311.9H2064.4ZM2067.0 1303.9H2069.6V1312.1H2067.0ZM2069.6 1303.5H2072.2V1310.8H2069.6ZM2072.2 1303.3H2074.8V1312.0H2072.2ZM2074.8 1303.8H2077.4V1312.0H2074.8ZM2077.4 1302.3H2080.0V1310.6H2077.4ZM2080.0 1298.1H2082.6V1309.2H2080.0ZM2082.6 1297.2H2085.0V1306.6H2082.6ZM2095.0 1289.2H2095.6V1297.3H2095.0ZM2095.6 1289.2H2098.2V1298.8H2095.6ZM2098.2 1292.5H2099.0V1298.8H2098.2Z" fill="#000" stroke="none"/>
<path d="M219.0 539.0M232.0 562.0L234.5 569.0L237.0 556.0M929.0 590.0L931.0 530.0L933.0 470.0L935.0 390.0L937.0 338.0L939.0 342.0L941.0 420.0L943.0 480.0M1134.0 846.0L1136.0 846.0L1137.0 700.0L1139.0 660.0L1139.5 38.0M1142.5 38.0L1143.0 660.0L1144.5 700.0L1145.5 850.0M1353.0 840.0L1355.0 834.0M1688.0 877.0M1703.0 880.0M2085.0 877.0L2087.0 869.0L2089.0 888.0L2091.0 870.0L2093.0 889.0L2095.0 872.0M2099.0 878.0" stroke="#008585" stroke-width="5.0"/>
<path d="M219.0 535.4H221.0V541.7H219.0ZM221.0 532.5H223.6V541.7H221.0ZM223.6 532.5H226.2V547.7H223.6ZM226.2 534.6H228.8V554.5H226.2ZM228.8 539.2H231.4V564.7H228.8ZM231.4 551.0H232.0V564.7H231.4ZM237.0 552.1H239.2V560.1H237.0ZM239.2 552.2H241.8V567.0H239.2ZM241.8 545.5H244.4V567.0H241.8ZM244.4 543.6H247.0V561.7H244.4ZM247.0 543.6H249.6V563.1H247.0ZM249.6 553.8H252.2V563.1H249.6ZM252.2 554.2H254.8V567.2H252.2ZM254.8 558.4H257.4V569.7H254.8ZM257.4 560.5H260.0V570.5H257.4ZM260.0 558.1H262.6V569.4H260.0ZM262.6 555.1H265.2V570.6H262.6ZM265.2 558.6H267.8V571.7H265.2ZM267.8 559.6H270.4V571.1H267.8ZM270.4 560.9H273.0V571.7H270.4ZM273.0 561.9H275.6V575.6H273.0ZM275.6 559.5H278.2V575.6H275.6ZM278.2 559.5H280.8V577.0H278.2ZM280.8 563.8H283.4V577.5H280.8ZM283.4 563.2H286.0V577.6H283.4ZM286.0 562.6H288.6V575.4H286.0ZM288.6 564.2H291.2V576.5H288.6ZM291.2 564.6H293.8V578.4H291.2ZM293.8 559.9H296.4V575.4H293.8ZM296.4 557.7H299.0V568.4H296.4ZM299.0 558.5H301.6V577.1H299.0ZM301.6 559.5H304.2V578.8H301.6ZM304.2 561.1H306.8V580.1H304.2ZM306.8 561.0H309.4V580.1H306.8ZM309.4 560.1H312.0V579.8H309.4ZM312.0 567.8H314.6V580.3H312.0ZM314.6 570.7H317.2V586.4H314.6ZM317.2 570.3H319.8V586.4H317.2ZM319.8 570.7H322.4V588.1H319.8ZM322.4 579.1H325.0V588.1H322.4ZM325.0 576.0H327.6V589.3H325.0ZM327.6 570.5H330.2V589.3H327.6ZM330.2 571.2H332.8V586.7H330.2ZM332.8 578.0H335.4V592.2H332.8ZM335.4 578.8H338.0V592.4H335.4ZM338.0 575.0H340.6V588.3H338.0ZM340.6 571.6H343.2V586.3H340.6ZM343.2 570.1H345.8V585.3H343.2ZM345.8 572.1H348.4V585.3H345.8ZM348.4 568.5H351.0V580.7H348.4ZM351.0 567.6H353.6V577.8H351.0ZM353.6 567.3H356.2V578.7H353.6ZM356.2 562.4H358.8V578.7H356.2ZM358.8 562.4H361.4V576.5H358.8ZM361.4 564.9H364.0V581.0H361.4ZM364.0 567.4H366.6V581.0H364.0ZM366.6 568.1H369.2V575.9H366.6ZM369.2 565.8H371.8V575.9H369.2ZM371.8 563.8H374.4V575.8H371.8ZM374.4 563.8H377.0V576.5H374.4ZM377.0 569.3H379.6V576.8H377.0ZM379.6 553.3H382.2V576.8H379.6ZM382.2 546.3H384.8V568.5H382.2ZM384.8 543.3H387.4V559.7H384.8ZM387.4 544.1H390.0V558.1H387.4ZM390.0 548.1H392.6V562.7H390.0ZM392.6 544.6H395.2V564.7H392.6ZM395.2 552.2H397.8V571.6H395.2ZM397.8 562.9H400.4V590.7H397.8ZM400.4 579.2H403.0V609.4H400.4ZM403.0 589.8H405.6V616.4H403.0ZM405.6 603.3H408.2V615.7H405.6ZM408.2 600.8H410.8V615.7H408.2ZM410.8 597.9H413.4V612.4H410.8ZM413.4 597.9H416.0V621.7H413.4ZM416.0 607.5H418.6V624.5H416.0ZM418.6 608.6H421.2V623.7H418.6ZM421.2 608.6H423.8V626.7H421.2ZM423.8 612.9H426.4V626.7H423.8ZM426.4 612.6H429.0V624.2H426.4ZM429.0 612.6H431.6V626.3H429.0ZM431.6 619.3H434.2V625.7H431.6ZM434.2 615.3H436.8V625.8H434.2ZM436.8 611.8H439.4V624.9H436.8ZM439.4 610.6H442.0V626.6H439.4ZM442.0 609.2H444.6V630.7H442.0ZM444.6 608.5H447.2V630.7H444.6ZM447.2 613.7H449.8V623.6H447.2ZM449.8 613.9H452.4V625.2H449.8ZM452.4 613.9H455.0V629.9H452.4ZM455.0 614.6H457.6V627.2H455.0ZM457.6 607.5H460.2V623.7H457.6ZM460.2 607.5H462.8V628.9H460.2ZM462.8 616.4H465.4V629.0H462.8ZM465.4 614.8H468.0V627.1H465.4ZM468.0 614.8H470.6V625.6H468.0ZM470.6 618.0H473.2V631.0H470.6ZM473.2 614.2H475.8V631.0H473.2ZM475.8 610.5H478.4V625.5H475.8ZM478.4 610.5H481.0V625.5H478.4ZM481.0 613.5H483.6V623.6H481.0ZM483.6 613.5H486.2V625.1H483.6ZM486.2 613.9H488.8V624.9H486.2ZM488.8 604.4H491.4V620.9H488.8ZM491.4 604.4H494.0V622.0H491.4ZM494.0 611.4H496.6V622.0H494.0ZM496.6 609.9H499.2V619.7H496.6ZM499.2 609.0H501.8V618.8H499.2ZM501.8 607.5H504.4V618.5H501.8ZM504.4 609.0H507.0V620.5H504.4ZM507.0 609.5H509.6V622.9H507.0ZM509.6 605.5H512.2V625.2H509.6ZM512.2 605.5H514.8V624.5H512.2ZM514.8 607.3H517.4V618.9H514.8ZM517.4 605.8H520.0V619.0H517.4ZM520.0 605.8H522.6V625.2H520.0ZM522.6 613.4H525.2V626.1H522.6ZM525.2 611.4H527.8V623.4H525.2ZM527.8 611.4H530.4V620.7H527.8ZM530.4 606.8H533.0V624.3H530.4ZM533.0 606.8H535.6V624.3H533.0ZM535.6 608.6H538.2V619.9H535.6ZM538.2 611.3H540.8V619.9H538.2ZM540.8 611.3H543.4V627.1H540.8ZM543.4 615.9H546.0V627.1H543.4ZM546.0 602.5H548.6V625.3H546.0ZM548.6 602.5H551.2V616.8H548.6ZM551.2 606.9H553.8V622.5H551.2ZM553.8 606.7H556.4V622.5H553.8ZM556.4 606.5H559.0V619.1H556.4ZM559.0 604.4H561.6V618.1H559.0ZM561.6 604.5H564.2V614.3H561.6ZM564.2 604.5H566.8V618.3H564.2ZM566.8 605.8H569.4V620.5H566.8ZM569.4 609.3H572.0V620.5H569.4ZM572.0 610.5H574.6V618.8H572.0ZM574.6 610.5H577.2V618.5H574.6ZM577.2 612.3H579.8V624.7H577.2ZM579.8 610.9H582.4V627.2H579.8ZM582.4 610.9H585.0V624.5H582.4ZM585.0 611.8H587.6V620.3H585.0ZM587.6 610.5H590.2V620.3H587.6ZM590.2 609.5H592.8V618.0H590.2ZM592.8 606.7H595.4V621.4H592.8ZM595.4 606.7H598.0V627.2H595.4ZM598.0 606.4H600.6V622.4H598.0ZM600.6 605.6H603.2V620.6H600.6ZM603.2 605.8H605.8V627.2H603.2ZM605.8 607.6H608.4V627.2H605.8ZM608.4 606.6H611.0V621.2H608.4ZM611.0 602.5H613.6V623.9H611.0ZM613.6 604.3H616.2V623.9H613.6ZM616.2 602.7H618.8V613.0H616.2ZM618.8 603.0H621.4V613.2H618.8ZM621.4 606.2H624.0V613.2H621.4ZM624.0 605.3H626.6V614.1H624.0ZM626.6 596.6H629.2V615.1H626.6ZM629.2 596.6H631.8V608.9H629.2ZM631.8 601.9H634.4V609.9H631.8ZM634.4 602.2H637.0V614.4H634.4ZM637.0 603.9H639.6V614.4H637.0ZM639.6 603.9H642.2V612.0H639.6ZM642.2 603.5H644.8V612.2H642.2ZM644.8 601.0H647.4V612.2H644.8ZM647.4 601.0H650.0V612.7H647.4ZM650.0 597.3H652.6V610.5H650.0ZM652.6 597.3H655.2V617.1H652.6ZM655.2 604.3H657.8V620.4H655.2ZM657.8 602.0H660.4V619.9H657.8ZM660.4 602.0H663.0V612.1H660.4ZM663.0 597.7H665.6V609.9H663.0ZM665.6 596.2H668.2V604.7H665.6ZM668.2 596.2H670.8V608.8H668.2ZM670.8 600.3H673.4V612.5H670.8ZM673.4 596.4H676.0V612.5H673.4ZM676.0 591.9H678.6V609.0H676.0ZM678.6 593.0H681.2V607.6H678.6ZM681.2 594.4H683.8V610.0H681.2ZM683.8 601.1H686.4V612.8H683.8ZM686.4 598.2H689.0V612.8H686.4ZM689.0 592.5H691.6V606.6H689.0ZM691.6 587.1H694.2V606.6H691.6ZM694.2 588.1H696.8V598.1H694.2ZM696.8 591.0H699.4V602.9H696.8ZM699.4 592.2H702.0V612.6H699.4ZM702.0 599.2H704.6V612.6H702.0ZM704.6 594.9H707.2V611.1H704.6ZM707.2 594.9H709.8V605.5H707.2ZM709.8 593.5H712.4V603.9H709.8ZM712.4 590.9H715.0V605.1H712.4ZM715.0 590.5H717.6V602.8H715.0ZM717.6 590.0H720.2V600.2H717.6ZM720.2 586.5H722.8V600.2H720.2ZM722.8 586.5H725.4V599.7H722.8ZM725.4 590.5H728.0V601.5H725.4ZM728.0 588.6H730.6V606.5H728.0ZM730.6 593.4H733.2V607.9H730.6ZM733.2 592.7H735.8V605.0H733.2ZM735.8 592.7H738.4V599.1H735.8ZM738.4 589.3H741.0V606.3H738.4ZM741.0 589.3H743.6V606.3H741.0ZM743.6 595.1H746.2V607.4H743.6ZM746.2 593.6H748.8V607.4H746.2ZM748.8 591.4H751.4V601.7H748.8ZM751.4 589.0H754.0V600.1H751.4ZM754.0 589.0H756.6V597.7H754.0ZM756.6 584.3H759.2V597.7H756.6ZM759.2 584.3H761.8V595.0H759.2ZM761.8 582.6H764.4V595.0H761.8ZM764.4 581.3H767.0V592.7H764.4ZM767.0 581.3H769.6V595.1H767.0ZM769.6 582.3H772.2V592.4H769.6ZM772.2 576.9H774.8V591.1H772.2ZM774.8 573.4H777.4V583.8H774.8ZM777.4 573.6H780.0V587.9H777.4ZM780.0 576.2H782.6V587.9H780.0ZM782.6 576.2H785.2V592.1H782.6ZM785.2 581.3H787.8V592.9H785.2ZM787.8 582.3H790.4V592.0H787.8ZM790.4 583.3H793.0V592.8H790.4ZM793.0 581.2H795.6V592.8H793.0ZM795.6 581.9H798.2V595.9H795.6ZM798.2 582.3H800.8V595.9H798.2ZM800.8 578.0H803.4V591.1H800.8ZM803.4 578.0H806.0V586.3H803.4ZM806.0 579.3H808.6V587.0H806.0ZM808.6 581.0H811.2V591.0H808.6ZM811.2 580.3H813.8V592.0H811.2ZM813.8 580.3H816.4V592.0H813.8ZM816.4 580.3H819.0V595.2H816.4ZM819.0 582.0H821.6V595.2H819.0ZM821.6 574.8H824.2V591.5H821.6ZM824.2 574.8H826.8V590.1H824.2ZM826.8 571.8H829.4V590.1H826.8ZM829.4 571.8H832.0V588.7H829.4ZM832.0 570.3H834.6V588.7H832.0ZM834.6 573.9H837.2V586.7H834.6ZM837.2 572.5H839.8V588.1H837.2ZM839.8 570.6H842.4V588.1H839.8ZM842.4 566.4H845.0V577.9H842.4ZM845.0 560.2H847.6V577.7H845.0ZM847.6 558.5H850.2V574.5H847.6ZM850.2 558.5H852.8V571.0H850.2ZM852.8 559.6H855.4V574.7H852.8ZM855.4 562.4H858.0V574.7H855.4ZM858.0 565.4H860.6V574.1H858.0ZM860.6 559.7H863.2V574.2H860.6ZM863.2 559.7H865.8V572.5H863.2ZM865.8 543.9H868.4V568.7H865.8ZM868.4 534.4H871.0V562.8H868.4ZM871.0 534.3H873.6V546.0H871.0ZM873.6 536.2H876.2V553.6H873.6ZM876.2 543.6H878.8V561.5H876.2ZM878.8 551.2H881.4V564.4H878.8ZM881.4 555.6H884.0V571.3H881.4ZM884.0 563.6H886.6V575.6H884.0ZM886.6 565.1H889.2V577.6H886.6ZM889.2 563.7H891.8V577.6H889.2ZM891.8 542.8H894.4V572.7H891.8ZM894.4 518.9H897.0V565.1H894.4ZM897.0 491.3H899.6V538.0H897.0ZM899.6 491.3H902.2V513.0H899.6ZM902.2 494.3H904.8V525.9H902.2ZM904.8 503.0H907.4V534.3H904.8ZM907.4 526.3H910.0V544.3H907.4ZM910.0 529.1H912.6V553.5H910.0ZM912.6 543.2H915.2V572.9H912.6ZM915.2 554.6H917.8V585.4H915.2ZM917.8 575.3H920.4V609.9H917.8ZM920.4 587.1H923.0V612.2H920.4ZM923.0 604.5H925.6V619.7H923.0ZM925.6 587.3H928.2V619.7H925.6ZM928.2 587.3H929.0V610.0H928.2ZM943.0 477.3H943.8V525.5H943.0ZM943.8 477.3H946.4V582.5H943.8ZM946.4 546.7H949.0V642.5H946.4ZM949.0 603.2H951.6V679.9H949.0ZM951.6 651.3H954.2V691.1H951.6ZM954.2 677.0H956.8V703.9H954.2ZM956.8 695.3H959.4V708.3H956.8ZM959.4 700.3H962.0V709.9H959.4ZM962.0 704.0H964.6V714.7H962.0ZM964.6 700.0H967.2V714.7H964.6ZM967.2 700.0H969.8V717.6H967.2ZM969.8 710.6H972.4V723.5H969.8ZM972.4 714.4H975.0V726.6H972.4ZM975.0 709.3H977.6V727.2H975.0ZM977.6 709.3H980.2V722.7H977.6ZM980.2 709.2H982.8V722.9H980.2ZM982.8 710.3H985.4V722.9H982.8ZM985.4 710.6H988.0V721.7H985.4ZM988.0 710.6H990.6V723.9H988.0ZM990.6 715.3H993.2V723.9H990.6ZM993.2 715.3H995.8V722.5H993.2ZM995.8 715.2H998.4V722.8H995.8ZM998.4 715.9H1001.0V725.7H998.4ZM1001.0 713.6H1003.6V725.7H1001.0ZM1003.6 713.6H1006.2V727.7H1003.6ZM1006.2 709.5H1008.8V727.7H1006.2ZM1008.8 709.5H1011.4V721.4H1008.8ZM1011.4 710.7H1014.0V719.8H1011.4ZM1014.0 710.7H1016.6V722.0H1014.0ZM1016.6 712.0H1019.2V721.4H1016.6ZM1019.2 708.7H1021.8V718.3H1019.2ZM1021.8 708.7H1024.4V723.8H1021.8ZM1024.4 705.9H1027.0V723.8H1024.4ZM1027.0 699.7H1029.6V712.8H1027.0ZM1029.6 698.8H1032.2V714.2H1029.6ZM1032.2 702.0H1034.8V715.9H1032.2ZM1034.8 704.5H1037.4V721.3H1034.8ZM1037.4 706.2H1040.0V721.3H1037.4ZM1040.0 702.8H1042.6V719.3H1040.0ZM1042.6 702.8H1045.2V713.4H1042.6ZM1045.2 704.0H1047.8V713.4H1045.2ZM1047.8 703.7H1050.4V716.4H1047.8ZM1050.4 708.3H1053.0V716.4H1050.4ZM1053.0 708.3H1055.6V717.3H1053.0ZM1055.6 708.0H1058.2V717.7H1055.6ZM1058.2 707.3H1060.8V717.7H1058.2ZM1060.8 702.4H1063.4V715.8H1060.8ZM1063.4 702.5H1066.0V716.8H1063.4ZM1066.0 710.0H1068.6V722.0H1066.0ZM1068.6 708.1H1071.2V722.0H1068.6ZM1071.2 708.1H1073.8V719.2H1071.2ZM1073.8 712.2H1076.4V721.9H1073.8ZM1076.4 712.0H1079.0V721.9H1076.4ZM1079.0 708.7H1081.6V723.9H1079.0ZM1081.6 708.7H1084.2V720.0H1081.6ZM1084.2 709.1H1086.8V719.4H1084.2ZM1086.8 702.1H1089.4V715.1H1086.8ZM1089.4 694.9H1092.0V713.6H1089.4ZM1092.0 695.3H1094.6V707.7H1092.0ZM1094.6 692.3H1097.2V707.7H1094.6ZM1097.2 684.6H1099.8V699.4H1097.2ZM1099.8 678.7H1102.4V695.6H1099.8ZM1102.4 676.1H1105.0V688.7H1102.4ZM1105.0 676.1H1107.6V693.8H1105.0ZM1107.6 686.6H1110.2V699.7H1107.6ZM1110.2 691.9H1112.8V705.1H1110.2ZM1112.8 693.7H1115.4V720.4H1112.8ZM1115.4 706.4H1118.0V739.8H1115.4ZM1118.0 723.8H1120.6V766.6H1118.0ZM1120.6 742.5H1123.2V792.0H1120.6ZM1123.2 771.1H1125.8V814.1H1123.2ZM1125.8 793.8H1128.4V831.6H1125.8ZM1128.4 816.8H1131.0V846.4H1128.4ZM1131.0 833.8H1133.6V848.5H1131.0ZM1133.6 843.2H1134.0V848.5H1133.6ZM1139.5 35.5H1141.4V41.9H1139.5ZM1141.4 35.5H1142.5V41.9H1141.4ZM1145.5 846.6H1146.6V852.5H1145.5ZM1146.6 845.0H1149.2V852.4H1146.6ZM1149.2 845.0H1151.8V855.7H1149.2ZM1151.8 848.5H1154.4V857.1H1151.8ZM1154.4 847.6H1157.0V857.1H1154.4ZM1157.0 846.4H1159.6V853.3H1157.0ZM1159.6 846.1H1162.2V855.2H1159.6ZM1162.2 846.8H1164.8V856.8H1162.2ZM1164.8 847.5H1167.4V856.7H1164.8ZM1167.4 847.5H1170.0V855.2H1167.4ZM1170.0 847.9H1172.6V855.3H1170.0ZM1172.6 848.1H1175.2V854.5H1172.6ZM1175.2 847.3H1177.8V854.5H1175.2ZM1177.8 846.5H1180.4V852.6H1177.8ZM1180.4 846.5H1183.0V855.4H1180.4ZM1183.0 849.3H1185.6V856.7H1183.0ZM1185.6 849.3H1188.2V857.6H1185.6ZM1188.2 850.5H1190.8V857.6H1188.2ZM1190.8 847.4H1193.4V856.4H1190.8ZM1193.4 847.4H1196.0V854.6H1193.4ZM1196.0 848.6H1198.6V855.2H1196.0ZM1198.6 849.5H1201.2V856.1H1198.6ZM1201.2 847.8H1203.8V856.5H1201.2ZM1203.8 847.8H1206.4V856.2H1203.8ZM1206.4 848.2H1209.0V856.2H1206.4ZM1209.0 848.2H1211.6V855.0H1209.0ZM1211.6 847.1H1214.2V855.0H1211.6ZM1214.2 846.8H1216.8V855.2H1214.2ZM1216.8 847.9H1219.4V858.1H1216.8ZM1219.4 847.4H1222.0V858.1H1219.4ZM1222.0 848.3H1224.6V857.4H1222.0ZM1224.6 849.5H1227.2V857.1H1224.6ZM1227.2 849.0H1229.8V857.1H1227.2ZM1229.8 848.7H1232.4V856.2H1229.8ZM1232.4 847.5H1235.0V854.2H1232.4ZM1235.0 847.5H1237.6V853.9H1235.0ZM1237.6 847.9H1240.2V855.9H1237.6ZM1240.2 848.9H1242.8V855.9H1240.2ZM1242.8 846.6H1245.4V855.0H1242.8ZM1245.4 846.6H1248.0V854.6H1245.4ZM1248.0 846.4H1250.6V853.8H1248.0ZM1250.6 846.2H1253.2V853.5H1250.6ZM1253.2 846.7H1255.8V854.3H1253.2ZM1255.8 847.5H1258.4V855.7H1255.8ZM1258.4 848.7H1261.0V855.9H1258.4ZM1261.0 847.8H1263.6V855.6H1261.0ZM1263.6 847.8H1266.2V853.6H1263.6ZM1266.2 848.3H1268.8V856.8H1266.2ZM1268.8 845.8H1271.4V856.8H1268.8ZM1271.4 845.4H1274.0V854.3H1271.4ZM1274.0 845.4H1276.6V852.6H1274.0ZM1276.6 846.7H1279.2V856.5H1276.6ZM1279.2 847.2H1281.8V856.5H1279.2ZM1281.8 847.2H1284.4V854.2H1281.8ZM1284.4 847.2H1287.0V854.7H1284.4ZM1287.0 846.7H1289.6V854.7H1287.0ZM1289.6 846.0H1292.2V852.6H1289.6ZM1292.2 845.4H1294.8V852.4H1292.2ZM1294.8 845.4H1297.4V854.0H1294.8ZM1297.4 847.2H1300.0V856.7H1297.4ZM1300.0 845.1H1302.6V856.7H1300.0ZM1302.6 845.1H1305.2V852.6H1302.6ZM1305.2 847.1H1307.8V856.3H1305.2ZM1307.8 847.0H1310.4V856.3H1307.8ZM1310.4 847.0H1313.0V856.1H1310.4ZM1313.0 846.6H1315.6V855.2H1313.0ZM1315.6 843.8H1318.2V852.6H1315.6ZM1318.2 843.8H1320.8V852.7H1318.2ZM1320.8 843.9H1323.4V856.2H1320.8ZM1323.4 847.0H1326.0V856.5H1323.4ZM1326.0 846.4H1328.6V854.7H1326.0ZM1328.6 847.2H1331.2V855.5H1328.6ZM1331.2 846.4H1333.8V855.5H1331.2ZM1333.8 846.4H1336.4V855.1H1333.8ZM1336.4 846.5H1339.0V855.1H1336.4ZM1339.0 846.0H1341.6V853.5H1339.0ZM1341.6 845.9H1344.2V852.4H1341.6ZM1344.2 845.9H1346.8V852.7H1344.2ZM1346.8 846.8H1349.4V853.0H1346.8ZM1349.4 838.2H1352.0V853.0H1349.4ZM1352.0 837.5H1353.0V848.3H1352.0ZM1355.0 831.5H1357.2V844.5H1355.0ZM1357.2 837.8H1359.8V851.0H1357.2ZM1359.8 841.3H1362.4V852.6H1359.8ZM1362.4 845.1H1365.0V853.5H1362.4ZM1365.0 845.0H1367.6V852.4H1365.0ZM1367.6 845.4H1370.2V854.4H1367.6ZM1370.2 846.5H1372.8V854.4H1370.2ZM1372.8 846.3H1375.4V854.2H1372.8ZM1375.4 846.2H1378.0V853.0H1375.4ZM1378.0 846.8H1380.6V853.7H1378.0ZM1380.6 844.3H1383.2V853.7H1380.6ZM1383.2 844.3H1385.8V853.6H1383.2ZM1385.8 844.5H1388.4V853.6H1385.8ZM1388.4 843.6H1391.0V850.7H1388.4ZM1391.0 843.6H1393.6V855.8H1391.0ZM1393.6 845.8H1396.2V855.8H1393.6ZM1396.2 845.7H1398.8V854.0H1396.2ZM1398.8 848.1H1401.4V856.0H1398.8ZM1401.4 845.3H1404.0V856.0H1401.4ZM1404.0 844.4H1406.6V851.6H1404.0ZM1406.6 844.1H1409.2V850.4H1406.6ZM1409.2 844.3H1411.8V850.2H1409.2ZM1411.8 844.7H1414.4V852.4H1411.8ZM1414.4 845.8H1417.0V852.4H1414.4ZM1417.0 845.8H1419.6V853.3H1417.0ZM1419.6 846.0H1422.2V853.3H1419.6ZM1422.2 846.0H1424.8V852.8H1422.2ZM1424.8 846.7H1427.4V852.9H1424.8ZM1427.4 846.4H1430.0V852.8H1427.4ZM1430.0 846.5H1432.6V855.0H1430.0ZM1432.6 847.2H1435.2V855.0H1432.6ZM1435.2 847.2H1437.8V854.5H1435.2ZM1437.8 849.1H1440.4V854.5H1437.8ZM1440.4 848.0H1443.0V855.5H1440.4ZM1443.0 846.5H1445.6V856.3H1443.0ZM1445.6 846.5H1448.2V854.3H1445.6ZM1448.2 848.1H1450.8V855.4H1448.2ZM1450.8 847.1H1453.4V855.4H1450.8ZM1453.4 847.2H1456.0V853.6H1453.4ZM1456.0 847.5H1458.6V853.8H1456.0ZM1458.6 847.4H1461.2V853.8H1458.6ZM1461.2 847.3H1463.8V853.0H1461.2ZM1463.8 847.4H1466.4V855.3H1463.8ZM1466.4 846.5H1469.0V855.3H1466.4ZM1469.0 845.0H1471.6V852.0H1469.0ZM1471.6 844.6H1474.2V851.6H1471.6ZM1474.2 844.4H1476.8V851.6H1474.2ZM1476.8 843.6H1479.4V851.5H1476.8ZM1479.4 843.6H1482.0V850.8H1479.4ZM1482.0 844.9H1484.6V852.0H1482.0ZM1484.6 846.2H1487.2V852.7H1484.6ZM1487.2 845.9H1489.8V852.7H1487.2ZM1489.8 842.9H1492.4V852.2H1489.8ZM1492.4 842.9H1495.0V851.6H1492.4ZM1495.0 846.0H1497.6V852.2H1495.0ZM1497.6 843.8H1500.2V852.2H1497.6ZM1500.2 843.6H1502.8V850.6H1500.2ZM1502.8 844.8H1505.4V852.4H1502.8ZM1505.4 846.5H1508.0V852.5H1505.4ZM1508.0 846.1H1510.6V852.5H1508.0ZM1510.6 846.1H1513.2V852.2H1510.6ZM1513.2 846.6H1515.8V855.1H1513.2ZM1515.8 845.7H1518.4V855.1H1515.8ZM1518.4 845.3H1521.0V852.0H1518.4ZM1521.0 845.0H1523.6V852.0H1521.0ZM1523.6 844.2H1526.2V851.3H1523.6ZM1526.2 844.2H1528.8V851.9H1526.2ZM1528.8 844.4H1531.4V851.8H1528.8ZM1531.4 845.0H1534.0V851.8H1531.4ZM1534.0 843.8H1536.6V851.8H1534.0ZM1536.6 843.4H1539.2V850.8H1536.6ZM1539.2 843.4H1541.8V850.2H1539.2ZM1541.8 844.1H1544.4V850.4H1541.8ZM1544.4 844.2H1547.0V850.8H1544.4ZM1547.0 844.6H1549.6V852.6H1547.0ZM1549.6 842.0H1552.2V852.6H1549.6ZM1552.2 842.3H1554.8V850.9H1552.2ZM1554.8 842.8H1557.4V851.2H1554.8ZM1557.4 843.1H1560.0V851.3H1557.4ZM1560.0 843.1H1562.6V851.3H1560.0ZM1562.6 842.6H1565.2V851.3H1562.6ZM1565.2 842.6H1567.8V849.6H1565.2ZM1567.8 843.6H1570.4V850.8H1567.8ZM1570.4 843.1H1573.0V850.6H1570.4ZM1573.0 841.1H1575.6V848.4H1573.0ZM1575.6 840.6H1578.2V848.7H1575.6ZM1578.2 840.6H1580.8V850.5H1578.2ZM1580.8 843.2H1583.4V850.5H1580.8ZM1583.4 842.3H1586.0V850.3H1583.4ZM1586.0 842.3H1588.6V849.7H1586.0ZM1588.6 842.3H1591.2V852.1H1588.6ZM1591.2 843.5H1593.8V851.7H1591.2ZM1593.8 842.4H1596.4V850.8H1593.8ZM1596.4 842.4H1599.0V848.4H1596.4ZM1599.0 842.4H1601.6V848.6H1599.0ZM1601.6 842.9H1604.2V848.5H1601.6ZM1604.2 841.8H1606.8V848.1H1604.2ZM1606.8 841.8H1609.4V849.3H1606.8ZM1609.4 840.9H1612.0V849.3H1609.4ZM1612.0 840.2H1614.6V848.0H1612.0ZM1614.6 837.1H1617.2V845.6H1614.6ZM1617.2 837.1H1619.8V845.0H1617.2ZM1619.8 839.6H1622.4V846.2H1619.8ZM1622.4 840.6H1625.0V848.4H1622.4ZM1625.0 841.2H1627.6V849.3H1625.0ZM1627.6 837.6H1630.2V848.2H1627.6ZM1630.2 837.6H1632.8V847.0H1630.2ZM1632.8 839.6H1635.4V847.0H1632.8ZM1635.4 838.0H1638.0V845.3H1635.4ZM1638.0 838.0H1640.6V845.0H1638.0ZM1640.6 839.3H1643.2V845.4H1640.6ZM1643.2 839.3H1645.8V846.1H1643.2ZM1645.8 840.2H1648.4V846.9H1645.8ZM1648.4 839.5H1651.0V846.7H1648.4ZM1651.0 837.3H1653.6V845.4H1651.0ZM1653.6 835.0H1656.2V845.1H1653.6ZM1656.2 835.2H1658.8V844.8H1656.2ZM1658.8 836.7H1661.4V844.8H1658.8ZM1661.4 836.7H1664.0V844.5H1661.4ZM1664.0 836.6H1666.6V843.5H1664.0ZM1666.6 836.6H1669.2V848.0H1666.6ZM1669.2 838.5H1671.8V849.4H1669.2ZM1671.8 842.8H1674.4V855.1H1671.8ZM1674.4 846.0H1677.0V863.3H1674.4ZM1677.0 853.6H1679.6V869.4H1677.0ZM1679.6 861.9H1682.2V879.0H1679.6ZM1682.2 868.4H1684.8V881.8H1682.2ZM1684.8 874.5H1687.4V881.8H1684.8ZM1687.4 874.5H1688.0V881.5H1687.4ZM1703.0 876.1H1705.6V882.5H1703.0ZM1705.6 876.4H1708.2V882.5H1705.6ZM1708.2 876.8H1710.8V883.4H1708.2ZM1710.8 876.8H1713.4V883.4H1710.8ZM1713.4 877.5H1716.0V883.9H1713.4ZM1716.0 877.4H1718.6V884.1H1716.0ZM1718.6 877.4H1721.2V883.1H1718.6ZM1721.2 876.4H1723.8V882.8H1721.2ZM1723.8 876.4H1726.4V883.3H1723.8ZM1726.4 876.2H1729.0V883.3H1726.4ZM1729.0 875.9H1731.6V882.5H1729.0ZM1731.6 875.9H1734.2V882.9H1731.6ZM1734.2 877.3H1736.8V883.1H1734.2ZM1736.8 877.5H1739.4V883.1H1736.8ZM1739.4 877.0H1742.0V883.1H1739.4ZM1742.0 875.5H1744.6V884.1H1742.0ZM1744.6 875.5H1747.2V883.0H1744.6ZM1747.2 876.0H1749.8V883.0H1747.2ZM1749.8 876.2H1752.4V883.0H1749.8ZM1752.4 874.9H1755.0V882.7H1752.4ZM1755.0 874.9H1757.6V882.7H1755.0ZM1757.6 876.6H1760.2V883.1H1757.6ZM1760.2 877.1H1762.8V883.8H1760.2ZM1762.8 876.7H1765.4V883.9H1762.8ZM1765.4 876.3H1768.0V883.3H1765.4ZM1768.0 876.1H1770.6V882.5H1768.0ZM1770.6 875.8H1773.2V881.5H1770.6ZM1773.2 875.8H1775.8V883.0H1773.2ZM1775.8 875.8H1778.4V883.0H1775.8ZM1778.4 874.9H1781.0V882.2H1778.4ZM1781.0 874.9H1783.6V882.5H1781.0ZM1783.6 876.3H1786.2V883.2H1783.6ZM1786.2 877.3H1788.8V882.9H1786.2ZM1788.8 877.4H1791.4V883.1H1788.8ZM1791.4 875.7H1794.0V883.1H1791.4ZM1794.0 875.7H1796.6V882.8H1794.0ZM1796.6 876.7H1799.2V882.9H1796.6ZM1799.2 877.7H1801.8V882.7H1799.2ZM1801.8 877.3H1804.4V882.7H1801.8ZM1804.4 876.7H1807.0V882.7H1804.4ZM1807.0 875.6H1809.6V882.3H1807.0ZM1809.6 874.9H1812.2V881.9H1809.6ZM1812.2 874.9H1814.8V882.9H1812.2ZM1814.8 875.4H1817.4V882.9H1814.8ZM1817.4 876.3H1820.0V882.5H1817.4ZM1820.0 876.7H1822.6V883.5H1820.0ZM1822.6 877.6H1825.2V883.7H1822.6ZM1825.2 875.7H1827.8V883.7H1825.2ZM1827.8 874.6H1830.4V882.6H1827.8ZM1830.4 875.0H1833.0V882.9H1830.4ZM1833.0 877.3H1835.6V883.0H1833.0ZM1835.6 877.3H1838.2V884.8H1835.6ZM1838.2 876.2H1840.8V884.8H1838.2ZM1840.8 876.1H1843.4V883.2H1840.8ZM1843.4 876.1H1846.0V884.7H1843.4ZM1846.0 876.9H1848.6V884.7H1846.0ZM1848.6 875.7H1851.2V883.6H1848.6ZM1851.2 875.7H1853.8V881.6H1851.2ZM1853.8 875.7H1856.4V881.6H1853.8ZM1856.4 875.7H1859.0V882.0H1856.4ZM1859.0 875.7H1861.6V883.3H1859.0ZM1861.6 877.0H1864.2V883.3H1861.6ZM1864.2 876.0H1866.8V882.5H1864.2ZM1866.8 876.0H1869.4V883.0H1866.8ZM1869.4 876.8H1872.0V883.0H1869.4ZM1872.0 876.4H1874.6V882.9H1872.0ZM1874.6 876.4H1877.2V882.5H1874.6ZM1877.2 875.2H1879.8V882.5H1877.2ZM1879.8 875.2H1882.4V883.0H1879.8ZM1882.4 875.7H1885.0V882.9H1882.4ZM1885.0 876.3H1887.6V882.9H1885.0ZM1887.6 876.0H1890.2V881.8H1887.6ZM1890.2 875.6H1892.8V882.0H1890.2ZM1892.8 875.6H1895.4V882.8H1892.8ZM1895.4 875.4H1898.0V883.0H1895.4ZM1898.0 875.4H1900.6V883.2H1898.0ZM1900.6 877.1H1903.2V883.6H1900.6ZM1903.2 877.2H1905.8V884.0H1903.2ZM1905.8 875.9H1908.4V883.9H1905.8ZM1908.4 876.3H1911.0V882.3H1908.4ZM1911.0 876.8H1913.6V883.3H1911.0ZM1913.6 876.5H1916.2V883.3H1913.6ZM1916.2 876.5H1918.8V883.2H1916.2ZM1918.8 876.0H1921.4V883.2H1918.8ZM1921.4 875.5H1924.0V882.6H1921.4ZM1924.0 876.0H1926.6V883.1H1924.0ZM1926.6 877.4H1929.2V884.4H1926.6ZM1929.2 877.0H1931.8V884.4H1929.2ZM1931.8 877.0H1934.4V884.1H1931.8ZM1934.4 875.4H1937.0V882.3H1934.4ZM1937.0 875.4H1939.6V881.8H1937.0ZM1939.6 875.4H1942.2V882.4H1939.6ZM1942.2 876.3H1944.8V883.8H1942.2ZM1944.8 878.1H1947.4V884.1H1944.8ZM1947.4 877.5H1950.0V884.0H1947.4ZM1950.0 876.3H1952.6V883.0H1950.0ZM1952.6 875.0H1955.2V881.3H1952.6ZM1955.2 874.1H1957.8V882.6H1955.2ZM1957.8 874.1H1960.4V882.7H1957.8ZM1960.4 874.1H1963.0V881.6H1960.4ZM1963.0 875.2H1965.6V882.0H1963.0ZM1965.6 875.2H1968.2V882.5H1965.6ZM1968.2 876.3H1970.8V882.4H1968.2ZM1970.8 875.7H1973.4V882.1H1970.8ZM1973.4 874.0H1976.0V882.0H1973.4ZM1976.0 874.0H1978.6V881.9H1976.0ZM1978.6 874.8H1981.2V882.0H1978.6ZM1981.2 874.8H1983.8V883.3H1981.2ZM1983.8 876.2H1986.4V883.3H1983.8ZM1986.4 876.2H1989.0V883.3H1986.4ZM1989.0 875.9H1991.6V882.9H1989.0ZM1991.6 874.0H1994.2V881.7H1991.6ZM1994.2 874.0H1996.8V882.6H1994.2ZM1996.8 875.5H1999.4V882.6H1996.8ZM1999.4 875.0H2002.0V880.8H1999.4ZM2002.0 875.0H2004.6V881.4H2002.0ZM2004.6 876.0H2007.2V882.8H2004.6ZM2007.2 876.5H2009.8V883.6H2007.2ZM2009.8 876.5H2012.4V883.3H2009.8ZM2012.4 878.0H2015.0V883.4H2012.4ZM2015.0 876.5H2017.6V883.4H2015.0ZM2017.6 876.5H2020.2V883.7H2017.6ZM2020.2 877.9H2022.8V885.2H2020.2ZM2022.8 876.4H2025.4V885.2H2022.8ZM2025.4 876.4H2028.0V883.4H2025.4ZM2028.0 877.6H2030.6V883.4H2028.0ZM2030.6 877.7H2033.2V884.6H2030.6ZM2033.2 878.3H2035.8V884.6H2033.2ZM2035.8 873.4H2038.4V884.5H2035.8ZM2038.4 871.6H2041.0V881.2H2038.4ZM2041.0 867.6H2043.6V879.2H2041.0ZM2043.6 851.6H2046.2V873.7H2043.6ZM2046.2 848.5H2048.8V866.6H2046.2ZM2048.8 848.5H2051.4V865.4H2048.8ZM2051.4 849.3H2054.0V877.9H2051.4ZM2054.0 865.9H2056.6V885.0H2054.0ZM2056.6 876.0H2059.2V887.9H2056.6ZM2059.2 881.6H2061.8V887.9H2059.2ZM2061.8 880.9H2064.4V887.7H2061.8ZM2064.4 880.7H2067.0V887.7H2064.4ZM2067.0 880.7H2069.6V887.3H2067.0ZM2069.6 879.5H2072.2V887.3H2069.6ZM2072.2 878.7H2074.8V885.5H2072.2ZM2074.8 877.3H2077.4V884.5H2074.8ZM2077.4 876.3H2080.0V884.5H2077.4ZM2080.0 874.9H2082.6V883.5H2080.0ZM2082.6 874.5H2085.0V881.8H2082.6ZM2095.0 869.5H2095.6V878.0H2095.0ZM2095.6 869.5H2098.2V880.5H2095.6ZM2098.2 873.9H2099.0V880.5H2098.2Z" fill="#008585" stroke="none"/>
<path d="M1687.7 876V818H1690.4V730.5H1695.4V736H1700.4V812H1703.1V882H1698.2V867H1693.2V876Z" fill="#008585" stroke="none"/>
</g>

<text class="sans" font-size="68" transform="translate(413.6 127.6) scale(1.0163 1)">Pristine PVDF</text>\n<text class="sans" font-size="68" transform="translate(1528.2 124.5) scale(1.0101 1)">Replicated PVDF</text>\n<text class="sans" font-size="68" transform="translate(1155.7 165.8) scale(1.0095 1)">F1s</text>\n<text class="sans" font-size="68" transform="translate(1302.7 807.2) scale(1.0067 1)">O1s</text>\n<text class="sans" font-size="68" transform="translate(1633.0 729.7) scale(1.0130 1)">C1s</text>\n<text class="sans" font-size="68" transform="translate(847.7 1603.7) scale(1.0154 1)">Binding Energy (eV)</text>\n<text class="serif" font-size="67" transform="translate(410.0 228.6) scale(1.0085 1)">F1s = 44.07 %</text>\n<text class="serif" font-size="67" transform="translate(409.0 312.9) scale(1.0110 1)">C1s = 51.37 %</text>\n<text class="serif" font-size="67" transform="translate(409.0 397.7) scale(1.0130 1)">O1s =&#160;&#160; 4.55 %</text>\n<text class="serif" font-size="67" transform="translate(1576.0 222.8) scale(1.0110 1)">F1s = 56.39 %</text>\n<text class="serif" font-size="67" transform="translate(1575.5 307.5) scale(1.0097 1)">C1s = 41.51 %</text>\n<text class="serif" font-size="67" transform="translate(1575.0 391.7) scale(1.0160 1)">O1s =&#160;&#160; 2.10 %</text>\n<text class="sans" font-size="57" text-anchor="middle" transform="translate(2091.5 1493.5) scale(0.9550 1)">0</text>\n<text class="sans" font-size="57" text-anchor="middle" transform="translate(1814.6 1493.5) scale(0.9550 1)">200</text>\n<text class="sans" font-size="57" text-anchor="middle" transform="translate(1537.5 1493.5) scale(0.9550 1)">400</text>\n<text class="sans" font-size="57" text-anchor="middle" transform="translate(1258.8 1493.5) scale(0.9550 1)">600</text>\n<text class="sans" font-size="57" text-anchor="middle" transform="translate(983.0 1493.5) scale(0.9550 1)">800</text>\n<text class="sans" font-size="57" text-anchor="middle" transform="translate(706.2 1493.5) scale(0.9550 1)">1000</text>\n<text class="sans" font-size="57" text-anchor="middle" transform="translate(427.5 1493.5) scale(0.9550 1)">1200</text>\n<text class="sans" font-size="68" transform="translate(90.5 980.2) rotate(-90) scale(1.0160 1)">Counts /s (a.u)</text>
</svg>
</body></html>
